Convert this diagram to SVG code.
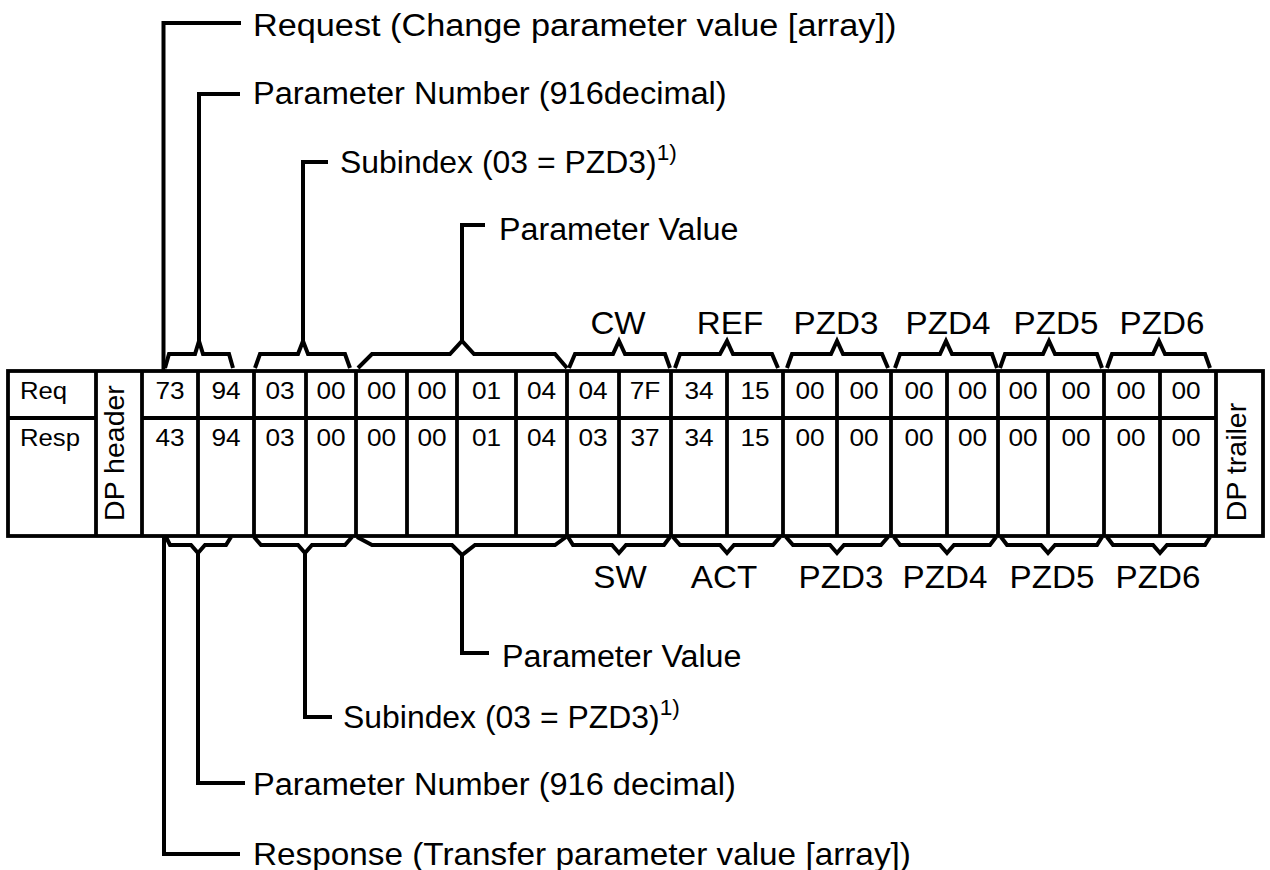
<svg xmlns="http://www.w3.org/2000/svg" width="1270" height="870" viewBox="0 0 1270 870">
<style>
.t{font-family:"Liberation Sans",Arial,Helvetica,sans-serif;fill:#000}
.lbl{font-size:31px}
.cell{font-size:24.5px}
.rot{font-size:28.5px}
.ln{fill:none;stroke:#000;stroke-width:4;stroke-linejoin:miter;stroke-linecap:butt}
.tb{fill:none;stroke:#000;stroke-width:3.8}
</style>
<rect width="1270" height="870" fill="#fff"/>
<g id="table">
<rect class="tb" x="8" y="371" width="1255" height="165"/>
<path class="tb" d="M8 418H96M142 418H1216"/>
<path class="tb" d="M96 371V536M142 371V536M198 371V536M254 371V536M306 371V536M356 371V536M407 371V536M457 371V536M516 371V536M567 371V536M619 371V536M671 371V536M727 371V536M783 371V536M837 371V536M891 371V536M947 371V536M998 371V536M1048 371V536M1104 371V536M1160 371V536M1216 371V536"/>
<text class="t cell" transform="translate(20 399) scale(1.05 1)">Req</text>
<text class="t cell" transform="translate(20 446) scale(1.05 1)">Resp</text>
<text class="t rot" text-anchor="middle" transform="translate(124 453) rotate(-90)">DP header</text>
<text class="t rot" text-anchor="middle" transform="translate(1246 462) rotate(-90)">DP trailer</text>
<g class="t cell" text-anchor="middle">
<text transform="translate(170 399) scale(1.07 1)">73</text>
<text transform="translate(226 399) scale(1.07 1)">94</text>
<text transform="translate(280 399) scale(1.07 1)">03</text>
<text transform="translate(331 399) scale(1.07 1)">00</text>
<text transform="translate(381.5 399) scale(1.07 1)">00</text>
<text transform="translate(432 399) scale(1.07 1)">00</text>
<text transform="translate(486.5 399) scale(1.07 1)">01</text>
<text transform="translate(541.5 399) scale(1.07 1)">04</text>
<text transform="translate(593 399) scale(1.07 1)">04</text>
<text transform="translate(645 399) scale(1.07 1)">7F</text>
<text transform="translate(699 399) scale(1.07 1)">34</text>
<text transform="translate(755 399) scale(1.07 1)">15</text>
<text transform="translate(810 399) scale(1.07 1)">00</text>
<text transform="translate(864 399) scale(1.07 1)">00</text>
<text transform="translate(919 399) scale(1.07 1)">00</text>
<text transform="translate(972.5 399) scale(1.07 1)">00</text>
<text transform="translate(1023 399) scale(1.07 1)">00</text>
<text transform="translate(1076 399) scale(1.07 1)">00</text>
<text transform="translate(1131 399) scale(1.07 1)">00</text>
<text transform="translate(1186 399) scale(1.07 1)">00</text>
<text transform="translate(170 446) scale(1.07 1)">43</text>
<text transform="translate(226 446) scale(1.07 1)">94</text>
<text transform="translate(280 446) scale(1.07 1)">03</text>
<text transform="translate(331 446) scale(1.07 1)">00</text>
<text transform="translate(381.5 446) scale(1.07 1)">00</text>
<text transform="translate(432 446) scale(1.07 1)">00</text>
<text transform="translate(486.5 446) scale(1.07 1)">01</text>
<text transform="translate(541.5 446) scale(1.07 1)">04</text>
<text transform="translate(593 446) scale(1.07 1)">03</text>
<text transform="translate(645 446) scale(1.07 1)">37</text>
<text transform="translate(699 446) scale(1.07 1)">34</text>
<text transform="translate(755 446) scale(1.07 1)">15</text>
<text transform="translate(810 446) scale(1.07 1)">00</text>
<text transform="translate(864 446) scale(1.07 1)">00</text>
<text transform="translate(919 446) scale(1.07 1)">00</text>
<text transform="translate(972.5 446) scale(1.07 1)">00</text>
<text transform="translate(1023 446) scale(1.07 1)">00</text>
<text transform="translate(1076 446) scale(1.07 1)">00</text>
<text transform="translate(1131 446) scale(1.07 1)">00</text>
<text transform="translate(1186 446) scale(1.07 1)">00</text>
</g>
</g>
<g id="braces-top">
<path class="ln" d="M165 368L169 354H195L199 341L203 354H229L233 368"/>
<path class="ln" d="M255 368L260 354H298L303 341L308 354H345L350 368"/>
<path class="ln" d="M358 368L372 354H450L462 341L474 354H555L567 368"/>
<path class="ln" d="M569 368L575 354H613L619 341L625 354H665L670 368"/>
<path class="ln" d="M675 368L680 354H720L727 341L733 354H772L778 368"/>
<path class="ln" d="M787 368L792 354H831L837 341L843 354H882L888 368"/>
<path class="ln" d="M895 368L900 354H940L946 341L952 354H992L997 368"/>
<path class="ln" d="M1000 368L1005 354H1043L1049 341L1055 354H1097L1102 368"/>
<path class="ln" d="M1107 368L1112 354H1153L1159 341L1165 354H1205L1210 368"/>
</g>
<g id="braces-bottom">
<path class="ln" d="M166 537L170 545H191L198 553L205 545H226L231 537"/>
<path class="ln" d="M254 537L261 545H298L305 553L312 545H345L352 537"/>
<path class="ln" d="M357 537L372 545H452L462 555L475 545H555L566 537"/>
<path class="ln" d="M568 537L573 545H612L619 553L626 545H664L670 537"/>
<path class="ln" d="M673 537L680 545H720L727 553L734 545H773L780 537"/>
<path class="ln" d="M786 537L793 545H830L837 553L844 545H881L888 537"/>
<path class="ln" d="M894 537L900 545H940L947 553L954 545H990L996 537"/>
<path class="ln" d="M1001 537L1007 545H1041L1048 553L1055 545H1097L1102 537"/>
<path class="ln" d="M1107 537L1113 545H1153L1160 553L1167 545H1205L1210 537"/>
</g>
<g id="connectors">
<path class="ln" d="M241 23H163.5V371"/>
<path class="ln" d="M240 94H199V341"/>
<path class="ln" d="M328 162H303V341"/>
<path class="ln" d="M485 225H462V342"/>
<path class="ln" d="M164 537V854H240"/>
<path class="ln" d="M198 553V783H245"/>
<path class="ln" d="M305 553V717H332"/>
<path class="ln" d="M462 555V653H489"/>
</g>
<g id="labels" class="t lbl">
<text transform="translate(253 36) scale(1.105 1)">Request (Change parameter value [array])</text>
<text transform="translate(253 104) scale(1.05 1)">Parameter Number (916decimal)</text>
<text transform="translate(340 173) scale(1.03 1)">Subindex (03 = PZD3)<tspan font-size="22" dy="-13">1)</tspan></text>
<text transform="translate(499 240) scale(1.04 1)">Parameter Value</text>
<text transform="translate(502 667) scale(1.04 1)">Parameter Value</text>
<text transform="translate(343 728) scale(1.03 1)">Subindex (03 = PZD3)<tspan font-size="22" dy="-13">1)</tspan></text>
<text transform="translate(253 795) scale(1.05 1)">Parameter Number (916 decimal)</text>
<text transform="translate(253 865) scale(1.075 1)">Response (Transfer parameter value [array])</text>
</g>
<g id="group-labels" class="t lbl" text-anchor="middle">
<text transform="translate(618 334) scale(1.07 1)">CW</text>
<text transform="translate(730 334) scale(1.07 1)">REF</text>
<text transform="translate(836 334) scale(1.07 1)">PZD3</text>
<text transform="translate(948 334) scale(1.07 1)">PZD4</text>
<text transform="translate(1056 334) scale(1.07 1)">PZD5</text>
<text transform="translate(1162 334) scale(1.07 1)">PZD6</text>
<text transform="translate(620 588) scale(1.07 1)">SW</text>
<text transform="translate(724 588) scale(1.07 1)">ACT</text>
<text transform="translate(841 588) scale(1.07 1)">PZD3</text>
<text transform="translate(945 588) scale(1.07 1)">PZD4</text>
<text transform="translate(1052 588) scale(1.07 1)">PZD5</text>
<text transform="translate(1158 588) scale(1.07 1)">PZD6</text>
</g>
</svg>
